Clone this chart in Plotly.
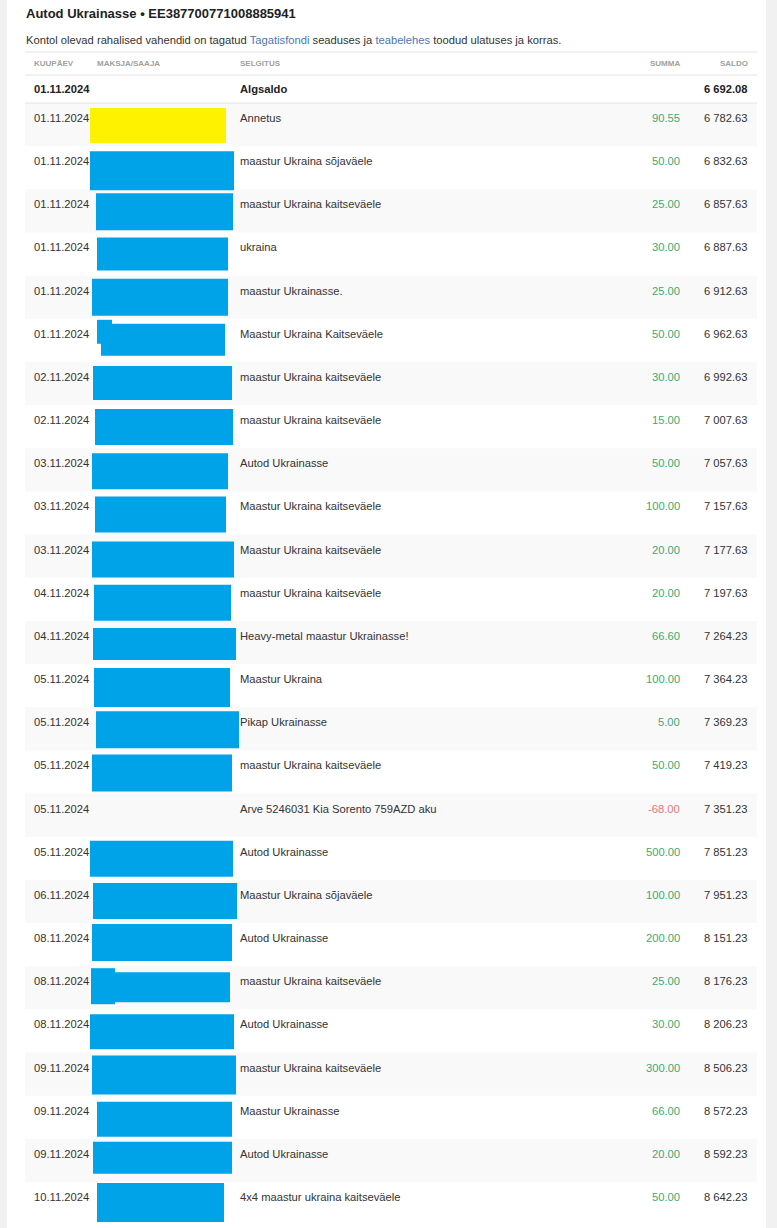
import plotly.graph_objects as go

# account statement data
title = "Autod Ukrainasse • EE387700771008885941"
headers = ["KUUPÄEV", "MAKSJA/SAAJA", "SELGITUS", "SUMMA", "SALDO"]
start_date = "01.11.2024"
start_label = "Algsaldo"
start_balance = 6692.08

dates = ["01.11.2024", "01.11.2024", "01.11.2024", "01.11.2024", "01.11.2024",
         "01.11.2024", "02.11.2024", "02.11.2024", "03.11.2024", "03.11.2024",
         "03.11.2024", "04.11.2024", "04.11.2024", "05.11.2024", "05.11.2024",
         "05.11.2024", "05.11.2024", "05.11.2024", "06.11.2024", "08.11.2024",
         "08.11.2024", "08.11.2024", "09.11.2024", "09.11.2024", "09.11.2024",
         "10.11.2024"]
descriptions = ["Annetus", "maastur Ukraina sõjaväele", "maastur Ukraina kaitseväele",
                "ukraina", "maastur Ukrainasse.", "Maastur Ukraina Kaitseväele",
                "maastur Ukraina kaitseväele", "maastur Ukraina kaitseväele",
                "Autod Ukrainasse", "Maastur Ukraina kaitseväele",
                "Maastur Ukraina kaitseväele", "maastur Ukraina kaitseväele",
                "Heavy-metal maastur Ukrainasse!", "Maastur Ukraina", "Pikap Ukrainasse",
                "maastur Ukraina kaitseväele", "Arve 5246031 Kia Sorento 759AZD aku",
                "Autod Ukrainasse", "Maastur Ukraina sõjaväele", "Autod Ukrainasse",
                "maastur Ukraina kaitseväele", "Autod Ukrainasse",
                "maastur Ukraina kaitseväele", "Maastur Ukrainasse", "Autod Ukrainasse",
                "4x4 maastur ukraina kaitseväele"]
amounts = [90.55, 50.00, 25.00, 30.00, 25.00, 50.00, 30.00, 15.00, 50.00, 100.00,
           20.00, 20.00, 66.60, 100.00, 5.00, 50.00, -68.00, 500.00, 100.00, 200.00,
           25.00, 30.00, 300.00, 66.00, 20.00, 50.00]
balances = [6782.63, 6832.63, 6857.63, 6887.63, 6912.63, 6962.63, 6992.63, 7007.63,
            7057.63, 7157.63, 7177.63, 7197.63, 7264.23, 7364.23, 7369.23, 7419.23,
            7351.23, 7851.23, 7951.23, 8151.23, 8176.23, 8206.23, 8506.23, 8572.23,
            8592.23, 8642.23]

# redaction boxes over the payer column: (left, right, top offset, bottom offset) per row,
# None for rows without one; the first row is yellow
redactions = [(90, 226, 5, 40), (90, 234, 5, 44), (96, 233, 4, 41), (97, 228, 5, 38),
              (92, 228, 3, 40), (101, 225, 5, 37), (93, 232, 4, 38), (95, 233, 4, 40),
              (92, 228, 5, 41), (95, 226, 5, 41), (92, 234, 7, 43), (94, 231, 7, 43),
              (93, 236, 7, 39), (94, 230, 4, 43), (96, 239, 4, 41), (92, 232, 4, 41),
              None, (90, 233, 4, 40), (93, 237, 3, 39), (92, 232, 1, 38),
              (100, 230, 6, 36), (90, 234, 5, 40), (92, 236, 3, 42), (97, 232, 6, 41),
              (93, 232, 3, 35), (97, 224, 1, 40)]
notches = {5: (97, 112, 0, 20), 20: (91, 115, 0, 32)}

FONT = "Liberation Sans, Arial, sans-serif"
TXT = "#333333"
GREEN = "#3daa72"
RED = "#e8787a"
BODY = 11.2
W, H = 777, 1228
LEFT, RIGHT = 25, 757
HEAD_TOP, HEAD_BOT, START_BOT = 52, 75, 103
ROW_H = 43.16
COL_DATE, COL_PAYER, COL_DESC, COL_SUM, COL_BAL = 34, 97, 240, 680, 748
PAD = 2  # annotation inner padding


def money(v):
    return f"{v:,.2f}".replace(",", " ")


shapes = [dict(type="rect", x0=7, x1=766, y0=0, y1=H, fillcolor="white", line_width=0, layer="below")]
annotations = []


def text(x, y, s, anchor="left", size=BODY, color=TXT, bold=False):
    x = x - PAD if anchor == "left" else x + PAD
    annotations.append(dict(x=x, y=y, xref="x", yref="y", text=f"<b>{s}</b>" if bold else s,
                            showarrow=False, xanchor=anchor, yanchor="middle",
                            font=dict(family=FONT, size=size, color=color)))


text(26, 13, title, size=13, color="#222222", bold=True)
annotations.append(dict(x=26 - PAD, y=40, xref="x", yref="y", showarrow=False, xanchor="left", yanchor="middle",
                        font=dict(family=FONT, size=BODY, color=TXT),
                        text="Kontol olevad rahalised vahendid on tagatud "
                             "<span style='color:#4a78b0'>Tagatisfondi</span> seaduses ja "
                             "<span style='color:#4a78b0'>teabelehes</span> toodud ulatuses ja korras."))

# header row
head_y = (HEAD_TOP + HEAD_BOT) / 2
for x, h, a in zip([COL_DATE, COL_PAYER, COL_DESC, COL_SUM, COL_BAL], headers,
                   ["left", "left", "left", "right", "right"]):
    text(x, head_y, h, anchor=a, size=8, color="#a0a0a0", bold=True)

for y in [HEAD_TOP, HEAD_BOT, START_BOT]:
    shapes.append(dict(type="line", x0=LEFT, x1=RIGHT, y0=y, y1=y, line=dict(color="#e4e4e4", width=1)))

# opening balance row
sy = (HEAD_BOT + START_BOT) / 2
text(COL_DATE, sy, start_date, bold=True, color="#222222")
text(COL_DESC, sy, start_label, bold=True, color="#222222")
text(COL_BAL, sy, money(start_balance), anchor="right", bold=True, color="#222222")

# transactions
for i, (d, desc, amt, bal) in enumerate(zip(dates, descriptions, amounts, balances)):
    top = START_BOT + i * ROW_H
    if i % 2 == 0:
        shapes.append(dict(type="rect", x0=LEFT, x1=RIGHT, y0=top, y1=top + ROW_H,
                           fillcolor="#f9f9f9", line_width=0, layer="below"))
    ty = top + 15
    text(COL_DATE, ty, d)
    text(COL_DESC, ty, desc)
    text(COL_SUM, ty, money(amt), anchor="right", color=GREEN if amt >= 0 else RED)
    text(COL_BAL, ty, money(bal), anchor="right")

    box = redactions[i]
    if box:
        col = "#fff200" if i == 0 else "#00a2e8"
        x0, x1, t0, t1 = box
        shapes.append(dict(type="rect", x0=x0, x1=x1, y0=top + t0, y1=top + t1,
                           fillcolor=col, line_width=0, layer="above"))
        if i in notches:
            n0, n1, o0, o1 = notches[i]
            shapes.append(dict(type="rect", x0=n0, x1=n1, y0=top + t0 - 4 + o0, y1=top + t0 + o1,
                               fillcolor=col, line_width=0, layer="above"))

fig = go.Figure()
fig.add_trace(go.Scatter(x=[0, W], y=[0, H], mode="markers", marker=dict(opacity=0),
                         hoverinfo="skip", showlegend=False))
fig.update_layout(width=W, height=H, margin=dict(l=0, r=0, t=0, b=0),
                  paper_bgcolor="#f1f1f1", plot_bgcolor="rgba(0,0,0,0)",
                  shapes=shapes, annotations=annotations, showlegend=False,
                  xaxis=dict(range=[0, W], visible=False, fixedrange=True),
                  yaxis=dict(range=[H, 0], visible=False, fixedrange=True))
fig.write_html("out.html", config={"displayModeBar": False},
               post_script="document.body.style.margin='0';document.body.style.overflow='hidden';")
